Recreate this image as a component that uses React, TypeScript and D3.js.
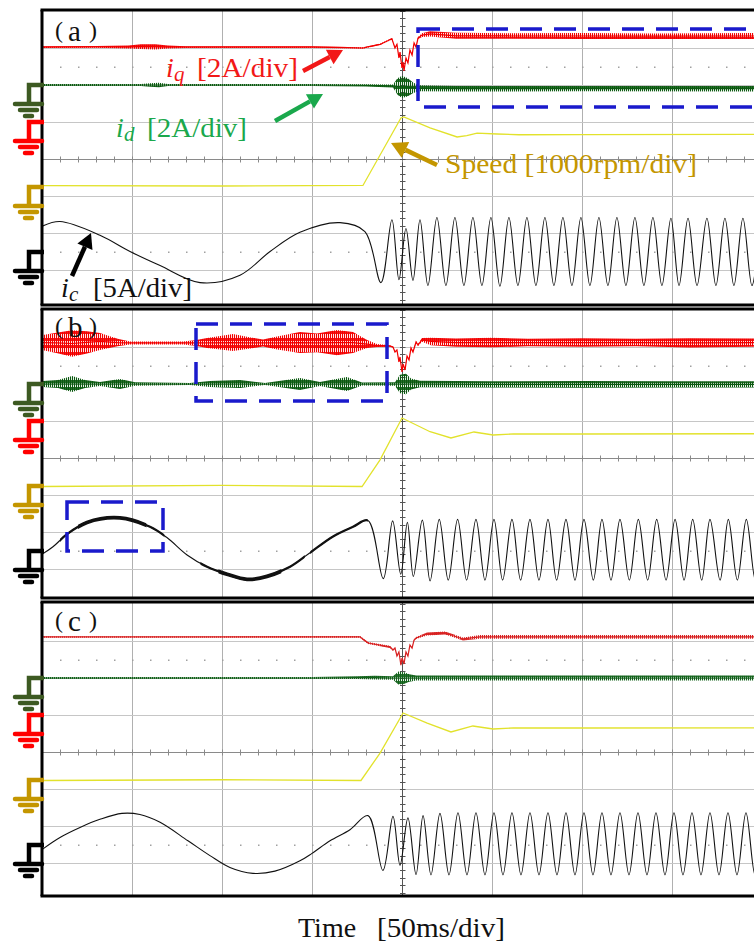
import { useEffect, useRef } from "react";
import * as d3 from "d3";

// Scope captures.
// time in ms (50 ms/div); currents in A; speed in rpm.
// noisy traces hold [t, value, half-width of the noise band]

// ---- panel (a) ----
const iqA = [
	[0, 4.05, 0.05], [30, 4.06, 0.05], [48, 4.05, 0.08], [55, 4.07, 0.13], [63, 4.06, 0.14],
	[70, 4.05, 0.08], [80, 4.05, 0.05], [150, 4.05, 0.05], [170, 4.02, 0.04], [178.3, 4.0, 0.04],
	[188, 4.2, 0.04], [194.4, 4.5, 0.04], [196.1, 4.0, 0.03], [197.2, 4.2, 0.03], [198.3, 3.46, 0.03],
	[198.9, 3.78, 0.03], [200.0, 2.92, 0.03], [200.6, 3.24, 0.03], [201.1, 2.76, 0.03], [202.2, 3.46, 0.03],
	[203.3, 3.19, 0.03], [204.4, 3.89, 0.03], [205.6, 3.62, 0.03], [206.7, 4.27, 0.03], [207.8, 4.05, 0.03],
	[208.9, 4.54, 0.05], [211.1, 4.7, 0.1], [215.6, 4.76, 0.14], [230, 4.66, 0.16], [260, 4.65, 0.15],
	[300, 4.65, 0.16], [340, 4.64, 0.15], [400, 4.65, 0.16],
];
const idA = [
	[0, 0, 0.05], [55, 0, 0.05], [60, 0, 0.1], [65, 0, 0.12], [70, 0, 0.05], [150, 0, 0.05],
	[180, -0.02, 0.06], [195, -0.05, 0.08], [197.5, -0.08, 0.45], [200, -0.1, 0.6], [203, -0.12, 0.5],
	[206, -0.15, 0.3], [209, -0.18, 0.16], [230, -0.2, 0.15], [300, -0.2, 0.14], [400, -0.2, 0.15],
];
const speedA = [
	[0, 50], [100, 40], [178.3, 55], [199.4, 1880], [201, 1905], [215.6, 1610], [230.6, 1365],
	[236, 1400], [241.7, 1470], [252.8, 1446], [265, 1425], [300, 1430], [400, 1435],
];
const icA = [
	[0, 3.4], [10, 4.05], [32.2, 2.2], [48.9, 0], [65.6, -1.9], [87.8, -4.2], [110, -3.2], [126.7, 0],
	[143.3, 2.6], [165.6, 3.9], [179.4, 2.7], [188.3, -4.2], [194.4, 4.3], [198.3, -3.8], [202.2, 3.1],
	[206.1, -3.9], [210.0, 4.3], [214.4, -4.6], [219.4, 4.6], [224.4, -4.6], [229.4, 4.6], [234.4, -4.6],
	[239.4, 4.6], [244.4, -4.6], [249.4, 4.6], [254.4, -4.7], [259.4, 4.6], [264.4, -4.6], [269.4, 4.6],
	[274.4, -4.6], [279.4, 4.6], [284.4, -4.6], [289.4, 4.6], [294.4, -4.6], [299.4, 4.6], [304.4, -4.6],
	[309.4, 4.6], [314.4, -4.6], [319.4, 4.6], [324.4, -4.6], [329.4, 4.6], [334.4, -4.6], [339.4, 4.6],
	[344.4, -4.6], [349.4, 4.5], [353.9, -4.6], [358.9, 4.5], [363.9, -4.6], [369.4, 4.5], [374.4, -4.6],
	[379.4, 4.5], [384.4, -4.6], [389.4, 4.5], [394.4, -4.6], [399.4, 4.5],
];

// ---- panel (b) ----
const iqB = [
	[0, 4.24, 0.4], [8, 4.22, 0.55], [16.7, 4.19, 0.72], [25, 4.25, 0.6], [32.2, 4.3, 0.46],
	[42, 4.24, 0.2], [48.9, 4.22, 0.08], [78.3, 4.22, 0.08], [85, 4.22, 0.15], [91.7, 4.22, 0.27],
	[106.1, 4.24, 0.46], [116, 4.22, 0.3], [122.8, 4.22, 0.19], [130.6, 4.22, 0.35], [143.3, 4.24, 0.57],
	[152.8, 4.22, 0.51], [163.9, 4.24, 0.68], [172.8, 4.24, 0.57], [180.6, 4.16, 0.22], [186.1, 4.08, 0.08],
	[193.3, 4.05, 0.04], [195, 4.0, 0.03], [196.1, 3.73, 0.03], [197.2, 3.84, 0.03], [198.3, 3.19, 0.03],
	[198.9, 3.46, 0.03], [200, 2.65, 0.03], [200.6, 3.08, 0.03], [201.7, 2.76, 0.03], [202.8, 3.51, 0.03],
	[203.9, 3.3, 0.03], [205, 3.95, 0.03], [206.1, 3.73, 0.03], [207.8, 4.27, 0.05], [208.9, 4.11, 0.05],
	[211.1, 4.38, 0.1], [216, 4.3, 0.2], [230, 4.24, 0.22], [250, 4.24, 0.26], [270, 4.24, 0.2],
	[300, 4.24, 0.23], [330, 4.24, 0.2], [360, 4.22, 0.25], [400, 4.24, 0.22],
];
const idB = [
	[0, 0, 0.16], [8.9, 0, 0.22], [16.7, 0, 0.43], [23.9, 0, 0.22], [32.2, 0, 0.11], [43.3, 0, 0.27],
	[51.7, 0, 0.1], [82.2, 0, 0.05], [93.3, 0, 0.16], [110, 0, 0.22], [123.9, 0, 0.05], [143.3, 0, 0.32],
	[154.4, 0, 0.11], [169.4, 0, 0.38], [177.8, 0, 0.08], [196.1, 0, 0.1], [198.9, 0, 0.5], [202.2, 0, 0.55],
	[205, 0, 0.3], [210, 0, 0.18], [250, -0.02, 0.17], [300, -0.02, 0.18], [350, -0.02, 0.17], [400, -0.02, 0.17],
];
const speedB = [
	[0, 0], [100, 30], [177.8, 0], [187.8, 720], [200, 1851], [215.6, 1480], [227.2, 1311],
	[240, 1473], [250.6, 1392], [262, 1420], [300, 1419], [400, 1425],
];
const icB = [
	[0, -0.5], [6.1, 0.5], [13.9, 2.2], [25, 3.8], [43.3, 4.4], [60, 3.2], [69.4, 1.75], [80.6, -0.6],
	[91.7, -2.2], [102.8, -3.2], [113.9, -3.9], [125, -3.5], [137.8, -2.2], [148.9, -0.3], [161.7, 1.9],
	[172.8, 3.2], [181.1, 4.05], [189.6, -3.8], [194.8, 4.0], [199.3, -3.2], [203.0, 3.8], [206.3, -3.5],
	[211.3, 4.1], [215.6, -4.1], [220.7, 4.2], [225.7, -4.0], [230.9, 4.2], [235.9, -4.0], [241.1, 4.2],
	[246.1, -4.0], [251.1, 4.2], [255.9, -4.0], [261.1, 4.2], [265.9, -4.0], [271.1, 4.2], [276.1, -4.0],
	[281.1, 4.2], [285.9, -4.0], [291.1, 4.2], [296.1, -4.0], [301.1, 4.2], [306.3, -4.0], [311.1, 4.2],
	[316.1, -4.0], [321.1, 4.2], [326.3, -4.0], [331.3, 4.2], [336.5, -4.0], [341.5, 4.2], [346.7, -4.0],
	[351.7, 4.2], [356.7, -4.0], [361.5, 4.2], [366.5, -4.0], [371.1, 4.2], [376.7, -4.0], [381.3, 4.2],
	[386.3, -4.0], [391.3, 4.2], [396.3, -4.0], [401.3, 4.2],
];
// stretches of (b) where the phase current is fuzzy: [t0, t1, peak-to-peak A]
const icNoiseB = [
	[10, 68, 0.3], [20, 58, 0.5], [88, 146, 0.3], [98, 133, 0.5], [149, 181, 0.3],
];

// ---- panel (c) ----
const iqC = [
	[0, 4.22, 0.04], [100, 4.22, 0.04], [150, 4.22, 0.05], [176.7, 4.22, 0.05], [181.1, 3.89, 0.05],
	[193.3, 3.68, 0.06], [195, 3.51, 0.04], [196.1, 3.62, 0.03], [197.2, 3.19, 0.03], [198.3, 3.41, 0.03],
	[199.4, 2.7, 0.03], [200, 3.08, 0.03], [201.1, 2.76, 0.03], [202.2, 3.41, 0.03], [203.3, 3.19, 0.03],
	[204.4, 3.78, 0.03], [205.6, 3.62, 0.03], [206.7, 4.05, 0.03], [207.8, 4.16, 0.05], [213.9, 4.38, 0.08],
	[223.9, 4.43, 0.08], [233.9, 4.11, 0.08], [243.3, 4.22, 0.1], [300, 4.22, 0.1], [400, 4.22, 0.1],
];
const idC = [
	[0, 0, 0.05], [150, 0, 0.05], [175, 0.02, 0.08], [185, 0.02, 0.1], [195, 0, 0.1], [198, 0, 0.35],
	[201, 0, 0.32], [204, 0, 0.2], [208, 0, 0.13], [300, 0, 0.13], [400, 0, 0.13],
];
const speedC = [
	[0, 0], [100, 20], [177.2, 0], [187.8, 740], [200.6, 1824], [214, 1550], [227.2, 1311],
	[239.4, 1473], [250.6, 1392], [262, 1420], [300, 1419], [400, 1420],
];
const icC = [
	[0, -0.68], [10, 0.95], [21.1, 2.3], [32.2, 3.4], [44.4, 4.2], [54.4, 4.05], [65.6, 3.0], [81.1, 0.5],
	[93.3, -1.5], [104.4, -3.1], [117.2, -3.9], [129.4, -3.6], [143.3, -2.2], [150, -1.2], [160, 0.5],
	[171.1, 2.0], [181.1, 3.9], [189.4, -3.5], [195, 3.8], [198.9, -2.8], [203.3, 3.6], [207.8, -4.05],
	[211.7, 3.9], [216.1, -4.1], [221.1, 4.2], [226.1, -4.1], [231.1, 4.3], [236.1, -4.1], [241.1, 4.3],
	[246.1, -4.1], [251.1, 4.3], [256.1, -4.1], [261.1, 4.3], [266.1, -4.1], [271.1, 4.3], [276.1, -4.1],
	[281.1, 4.3], [286.1, -4.1], [291.1, 4.3], [296.1, -4.1], [301.1, 4.3], [306.1, -4.1], [311.1, 4.3],
	[316.1, -4.1], [321.1, 4.3], [326.1, -4.1], [331.1, 4.3], [336.1, -4.1], [341.1, 4.3], [346.1, -4.1],
	[351.1, 4.3], [356.1, -4.1], [361.1, 4.3], [366.1, -4.1], [371.1, 4.3], [376.1, -4.1], [381.1, 4.3],
	[386.1, -4.1], [391.1, 4.3], [396.1, -4.1], [401.1, 4.3],
];

// time grid (ms) and channel settings
const timeGrid = [50, 100, 150, 200, 250, 300, 350];
const perDiv = { iq: 2, id: 2, speed: 1000, ic: 5 };
const groundDiv = { iq: 1.0, id: 2.0, speed: -0.77, ic: -2.5 };
const panelNames = ["a", "b", "c"];

const panelBoxes = [
	{ top: 10, center: 159, bottom: 305 },
	{ top: 309, center: 458, bottom: 598 },
	{ top: 602, center: 752, bottom: 896 },
];
const panelTraces = [
	{ iq: iqA, id: idA, speed: speedA, ic: icA, icNoise: [] },
	{ iq: iqB, id: idB, speed: speedB, ic: icB, icNoise: icNoiseB },
	{ iq: iqC, id: idC, speed: speedC, ic: icC, icNoise: [] },
];

const SERIF = "'Liberation Serif', 'Times New Roman', serif";

function App() {
	const ref = useRef(null);

	useEffect(() => {
		const svg = d3.select(ref.current);
		svg.selectAll("*").remove();

		const W = 754;
		const left = 42;
		const divPx = 37;
		const x = d3.scaleLinear().domain([0, 400]).range([left, left + 720]);
		const defs = svg.append("defs");
		const px = (v) => Math.round(v) + 0.5;

		const markerColor = { id: "#3d5a22", iq: "#ff0000", speed: "#c49600", ic: "#000000" };
		const traceColor = [
			{ iq: "#f20000", id: "#0b5a10", speed: "#e2e22c", ic: "#111111" },
			{ iq: "#f20000", id: "#0b5a10", speed: "#e2e22c", ic: "#111111" },
			{ iq: "#d82222", id: "#12621a", speed: "#e2e22c", ic: "#111111" },
		];

		panelBoxes.forEach((p, pi) => {
			const y = d3
				.scaleLinear()
				.domain([-4, 4])
				.range([p.center + 4 * divPx, p.center - 4 * divPx]);
			const tr = panelTraces[pi];
			const clipId = "scope-" + panelNames[pi];
			defs
				.append("clipPath")
				.attr("id", clipId)
				.append("rect")
				.attr("x", left + 1)
				.attr("y", p.top)
				.attr("width", W - left)
				.attr("height", p.bottom - p.top);

			const g = svg.append("g").attr("clip-path", `url(#${clipId})`);

			// grid
			timeGrid.forEach((t) => {
				g.append("line")
					.attr("x1", px(x(t)))
					.attr("x2", px(x(t)))
					.attr("y1", p.top)
					.attr("y2", p.bottom)
					.attr("stroke", t === 200 ? "#555" : "#b0b0b0")
					.attr("stroke-width", 1);
			});
			[-3, -2, -1, 0, 1, 2, 3].forEach((d) => {
				g.append("line")
					.attr("x1", left)
					.attr("x2", W)
					.attr("y1", px(y(d)))
					.attr("y2", px(y(d)))
					.attr("stroke", d === 0 ? "#8a8a8a" : "#c6c6c6")
					.attr("stroke-width", 1);
			});
			// minor ticks on centre lines, dotted rows at +-2.5 div
			for (let k = 1; k < 40; k++) {
				const tx = px(left + k * 18);
				g.append("line")
					.attr("x1", tx)
					.attr("x2", tx)
					.attr("y1", y(0) - 2.5)
					.attr("y2", y(0) + 3.5)
					.attr("stroke", "#8a8a8a");
				[2.5, -2.5].forEach((d) => {
					g.append("rect")
						.attr("x", tx - 0.5)
						.attr("y", Math.round(y(d)) - 0.5)
						.attr("width", 1.5)
						.attr("height", 1.5)
						.attr("fill", "#a0a0a0");
				});
			}
			for (let k = -20; k <= 20; k++) {
				const ty = px(p.center + k * (divPx / 5));
				g.append("line")
					.attr("x1", px(x(200)) - 2.5)
					.attr("x2", px(x(200)) + 3)
					.attr("y1", ty)
					.attr("y2", ty)
					.attr("stroke", "#555");
			}

			const lev = (ch) => (v) => y(groundDiv[ch] + v / perDiv[ch]);
			const col = traceColor[pi];

			// speed
			const ys = lev("speed");
			g.append("path")
				.datum(tr.speed)
				.attr("d", d3.line().x((d) => x(d[0])).y((d) => ys(d[1])))
				.attr("fill", "none")
				.attr("stroke", col.speed)
				.attr("stroke-width", 1.3);

			// phase current
			const yc = lev("ic");
			const icLine = d3
				.line()
				.curve(d3.curveCatmullRom.alpha(0.5))
				.x((d) => x(d[0]))
				.y((d) => yc(d[1]));
			g.append("path")
				.datum(tr.ic)
				.attr("d", icLine)
				.attr("fill", "none")
				.attr("stroke", col.ic)
				.attr("stroke-width", 1.1);
			tr.icNoise.forEach((z, zi) => {
				const zid = `${clipId}-n${zi}`;
				defs
					.append("clipPath")
					.attr("id", zid)
					.append("rect")
					.attr("x", x(z[0]))
					.attr("y", p.top)
					.attr("width", x(z[1]) - x(z[0]))
					.attr("height", p.bottom - p.top);
				g.append("path")
					.datum(tr.ic)
					.attr("d", icLine)
					.attr("clip-path", `url(#${zid})`)
					.attr("fill", "none")
					.attr("stroke", col.ic)
					.attr("stroke-width", Math.max(1.2, (z[2] / perDiv.ic) * divPx));
			});

			// noisy dq currents: band filled with fine vertical hatch, plus the centre line
			["id", "iq"].forEach((ch) => {
				const yv = lev(ch);
				const data = tr[ch];
				const pid = `${clipId}-${ch}-hatch`;
				const pat = defs
					.append("pattern")
					.attr("id", pid)
					.attr("patternUnits", "userSpaceOnUse")
					.attr("width", 2)
					.attr("height", 7);
				pat.append("rect").attr("width", 1.1).attr("height", 7).attr("fill", col[ch]);
				pat.append("rect").attr("x", 1.1).attr("y", 2).attr("width", 0.9).attr("height", 3).attr("fill", col[ch]);
				g.append("path")
					.datum(data)
					.attr(
						"d",
						d3
							.area()
							.x((d) => x(d[0]))
							.y0((d) => yv(d[1] - d[2]))
							.y1((d) => yv(d[1] + d[2])),
					)
					.attr("fill", `url(#${pid})`);
				g.append("path")
					.datum(data)
					.attr("d", d3.line().x((d) => x(d[0])).y((d) => yv(d[1])))
					.attr("fill", "none")
					.attr("stroke", col[ch])
					.attr("stroke-width", 1.2);
			});

			// frame
			const fr = svg.append("g").attr("stroke", "#000").attr("stroke-width", 3);
			fr.append("line").attr("x1", left - 1.5).attr("x2", W).attr("y1", p.top).attr("y2", p.top);
			fr.append("line").attr("x1", left - 1.5).attr("x2", W).attr("y1", p.bottom).attr("y2", p.bottom);
			fr.append("line").attr("x1", left).attr("x2", left).attr("y1", p.top).attr("y2", p.bottom);

			// ground markers
			["id", "iq", "speed", "ic"].forEach((ch) => {
				const y0 = Math.round(y(groundDiv[ch]));
				const m = svg
					.append("g")
					.attr("stroke", markerColor[ch])
					.attr("fill", "none");
				m.append("path")
					.attr("d", `M44,${y0} H29 V${y0 + 19}`)
					.attr("stroke-width", 4.5);
				[
					[15, 42, 19],
					[20, 37, 25],
					[25, 32, 31],
				].forEach(([a, b, dy]) => {
					m.append("line")
						.attr("x1", a)
						.attr("x2", b)
						.attr("y1", y0 + dy)
						.attr("y2", y0 + dy)
						.attr("stroke-width", 4.5)
						.attr("stroke-linecap", "round");
				});
			});

			// panel label
			const lb = svg.append("g").attr("font-family", SERIF).attr("fill", "#111");
			const base = p.top + [31, 28, 29][pi];
			lb.append("text").attr("x", 55).attr("y", base - 3).attr("font-size", 24).text("(");
			lb.append("text").attr("x", 68).attr("y", base).attr("font-size", 29).text(panelNames[pi]);
			lb.append("text").attr("x", 89).attr("y", base - 3).attr("font-size", 24).text(")");
		});

		// annotations
		const ann = svg.append("g");
		const arrow = (x1, y1, x2, y2, color, w, head) => {
			const a = Math.atan2(y2 - y1, x2 - x1);
			const bx = x2 - head * Math.cos(a);
			const by = y2 - head * Math.sin(a);
			const hw = head * 0.55;
			ann.append("line")
				.attr("x1", x1)
				.attr("y1", y1)
				.attr("x2", bx)
				.attr("y2", by)
				.attr("stroke", color)
				.attr("stroke-width", w);
			const pts = [
				[x2, y2],
				[bx + hw * Math.sin(a), by - hw * Math.cos(a)],
				[bx - hw * Math.sin(a), by + hw * Math.cos(a)],
			];
			ann.append("polygon")
				.attr("points", pts.map((q) => q.join(",")).join(" "))
				.attr("fill", color);
		};
		arrow(303, 71, 343, 50, "#f21818", 4.5, 15);
		arrow(275, 121, 323, 94, "#1aa84c", 4.5, 15);
		arrow(437, 165, 391, 143, "#c49600", 4.5, 16);
		arrow(72, 276, 91, 233, "#000", 4.5, 15);

		const label = (color, main, sub, bx, baseY, bracket, brX, brW) => {
			const t = ann.append("g").attr("font-family", SERIF).attr("fill", color);
			t.append("text")
				.attr("x", bx)
				.attr("y", baseY)
				.attr("font-size", 28)
				.attr("font-style", "italic")
				.text(main);
			t.append("text")
				.attr("x", bx + 8)
				.attr("y", baseY + 4)
				.attr("font-size", 21)
				.attr("font-style", "italic")
				.text(sub);
			t.append("text")
				.attr("x", brX)
				.attr("y", baseY)
				.attr("font-size", 28)
				.attr("textLength", brW)
				.attr("lengthAdjust", "spacingAndGlyphs")
				.text(bracket);
		};
		label("#f21818", "i", "q", 166, 77, "[2A/div]", 197, 101);
		label("#1aa84c", "i", "d", 116, 137, "[2A/div]", 147, 100);
		label("#111", "i", "c", 61, 297, "[5A/div]", 93, 99);
		ann.append("text")
			.attr("x", 445)
			.attr("y", 173)
			.attr("font-family", SERIF)
			.attr("font-size", 28)
			.attr("fill", "#c49600")
			.attr("textLength", 252)
			.attr("lengthAdjust", "spacingAndGlyphs")
			.text("Speed [1000rpm/div]");

		// blue dashed highlight boxes
		[
			[418, 29, 400, 78],
			[196, 324, 191, 77],
			[67, 502, 96, 49],
		].forEach(([bx, by, bw, bh]) => {
			ann.append("rect")
				.attr("x", bx)
				.attr("y", by)
				.attr("width", bw)
				.attr("height", bh)
				.attr("fill", "none")
				.attr("stroke", "#1a1acc")
				.attr("stroke-width", 3.5)
				.attr("stroke-dasharray", "22 12");
		});

		// time axis caption
		const cap = ann.append("g").attr("font-family", SERIF).attr("font-size", 28).attr("fill", "#111");
		cap.append("text").attr("x", 298).attr("y", 937).text("Time");
		cap.append("text")
			.attr("x", 377)
			.attr("y", 937)
			.attr("textLength", 128)
			.attr("lengthAdjust", "spacingAndGlyphs")
			.text("[50ms/div]");
	}, []);

	return (
		<svg
			ref={ref}
			width={754}
			height={943}
			style={{ position: "absolute", left: 0, top: 0, background: "#fff" }}
		/>
	);
}

export default App;
